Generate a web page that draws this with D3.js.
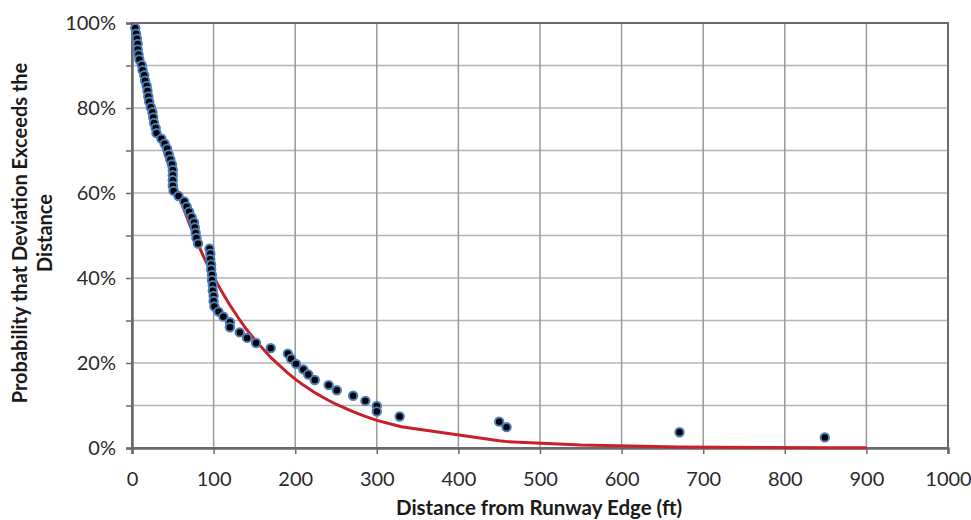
<!DOCTYPE html>
<html>
<head>
<meta charset="utf-8">
<script src="https://cdn.jsdelivr.net/npm/d3@7"></script>
<style>
  body { margin: 0; background: #fff; }
  svg { display: block; }
  .tick-label { font-family: Lato, "Open Sans", sans-serif; fill: #2a2a2a; }
  .axis-title { font-family: Lato, "Open Sans", sans-serif; font-weight: bold; fill: #1a1a1a; }
</style>
</head>
<body>
<div id="chart"></div>
<script>
const distances = [4, 5, 6, 7, 7, 8, 9, 12, 13, 15,
    16, 18, 19, 20, 21, 23, 25, 26, 27, 29,
    30, 36, 40, 43, 45, 47, 49, 50, 50, 50,
    50, 51, 57, 64, 67, 70, 73, 76, 77, 78,
    79, 81, 95, 96, 96, 97, 97, 98, 98, 99,
    99, 100, 100, 101, 106, 112, 120, 120, 132, 141,
    152, 170, 191, 195, 201, 210, 216, 224, 241, 251,
    271, 286, 300, 300, 328, 450, 459, 671, 849];
const exceedProb = [98.8, 97.5, 96.3, 95.1, 93.8, 92.6, 91.4, 90.1, 88.9, 87.7,
    86.4, 85.2, 84.0, 82.7, 81.5, 80.2, 79.0, 77.8, 76.5, 75.3,
    74.1, 72.8, 71.6, 70.4, 69.1, 67.9, 66.7, 65.4, 64.2, 63.0,
    61.7, 60.5, 59.3, 58.0, 56.8, 55.6, 54.3, 53.1, 51.9, 50.6,
    49.4, 48.1, 46.9, 45.7, 44.4, 43.2, 42.0, 40.7, 39.5, 38.3,
    37.0, 35.8, 34.6, 33.3, 32.1, 30.9, 29.6, 28.4, 27.2, 25.9,
    24.7, 23.5, 22.2, 21.0, 19.8, 18.5, 17.3, 16.0, 14.8, 13.6,
    12.3, 11.1, 9.9, 8.6, 7.4, 6.2, 4.9, 3.7, 2.5];

// Fitted curve (red line)
const fitDistances = [0, 10, 20, 30, 40, 50, 60, 70, 80, 90,
    100, 110, 120, 130, 140, 150, 170, 190, 200, 210,
    225, 240, 250, 270, 285, 300, 330, 450, 460, 550,
    670, 850, 900];
const fitProb = [100, 91.3, 83.4, 76.1, 69.5, 63.5, 58.0, 52.9, 48.3, 44.1,
    40.3, 36.8, 33.6, 30.7, 28.0, 25.6, 21.3, 17.8, 16.2, 14.8,
    12.9, 11.3, 10.3, 8.6, 7.5, 6.5, 5.0, 1.7, 1.5, 0.7,
    0.25, 0.05, 0.03];

const xTicks = [0, 100, 200, 300, 400, 500, 600, 700, 800, 900, 1000];
const yTicks = [0, 20, 40, 60, 80, 100];
const yGrid = [0, 10, 20, 30, 40, 50, 60, 70, 80, 90, 100];

const margin = { top: 23, right: 23, bottom: 72, left: 132 };
const W = 971, H = 520;
const width = W - margin.left - margin.right;
const height = H - margin.top - margin.bottom;

const svg = d3.select("#chart").append("svg")
    .attr("width", W)
    .attr("height", H);

const g = svg.append("g")
    .attr("transform", "translate(" + margin.left + "," + margin.top + ")");

const x = d3.scaleLinear().domain([0, 1000]).range([0, width]);
const y = d3.scaleLinear().domain([0, 100]).range([height, 0]);

// gridlines
g.append("g")
    .selectAll("line")
    .data(yGrid)
    .enter().append("line")
    .attr("x1", 0).attr("x2", width)
    .attr("y1", d => y(d)).attr("y2", d => y(d))
    .attr("stroke", "#b4b4b4")
    .attr("stroke-width", 1.5);

g.append("g")
    .selectAll("line")
    .data(xTicks)
    .enter().append("line")
    .attr("x1", d => x(d)).attr("x2", d => x(d))
    .attr("y1", 0).attr("y2", height)
    .attr("stroke", "#9a9a9a")
    .attr("stroke-width", 1.5);

// plot border (top/right)
g.append("rect")
    .attr("x", 0).attr("y", 0)
    .attr("width", width).attr("height", height)
    .attr("fill", "none")
    .attr("stroke", "#6a6a6a")
    .attr("stroke-width", 2);

// axes
const xAxis = g.append("g")
    .attr("transform", "translate(0," + height + ")")
    .call(d3.axisBottom(x).tickValues(xTicks).tickSize(6).tickPadding(18).tickFormat(d3.format("d")));

const yAxis = g.append("g")
    .call(d3.axisLeft(y).tickValues(yGrid).tickSize(6).tickPadding(10)
        .tickFormat(d => yTicks.includes(d) ? d + "%" : ""));

[xAxis, yAxis].forEach(a => {
    a.select(".domain").attr("stroke", "#6a6a6a").attr("stroke-width", 2.5);
    a.selectAll(".tick line").attr("stroke", "#6a6a6a").attr("stroke-width", 1.5);
    a.selectAll(".tick text").attr("class", "tick-label").style("font-size", "20px");
});

// fitted curve
const line = d3.line()
    .x((d, i) => x(fitDistances[i]))
    .y(d => y(d));

g.append("path")
    .datum(fitProb)
    .attr("d", line)
    .attr("fill", "none")
    .attr("stroke", "#c8202a")
    .attr("stroke-width", 3);

// observed points
g.append("g")
    .selectAll("circle")
    .data(distances)
    .enter().append("circle")
    .attr("cx", d => x(d))
    .attr("cy", (d, i) => y(exceedProb[i]))
    .attr("r", 4.2)
    .attr("fill", "#000")
    .attr("stroke", "#4a7ebb")
    .attr("stroke-width", 2);

// axis titles
svg.append("text")
    .attr("class", "axis-title")
    .attr("x", margin.left + x(500) - 1)
    .attr("y", 515)
    .attr("text-anchor", "middle")
    .style("font-size", "20.5px")
    .text("Distance from Runway Edge (ft)");

const yTitle = svg.append("text")
    .attr("class", "axis-title")
    .attr("transform", "translate(27,233) rotate(-90)")
    .attr("text-anchor", "middle")
    .style("font-size", "20px");
yTitle.append("tspan").attr("x", 0).attr("y", 0).text("Probability that Deviation Exceeds the");
yTitle.append("tspan").attr("x", 0).attr("y", 25).text("Distance");
</script>
</body>
</html>
